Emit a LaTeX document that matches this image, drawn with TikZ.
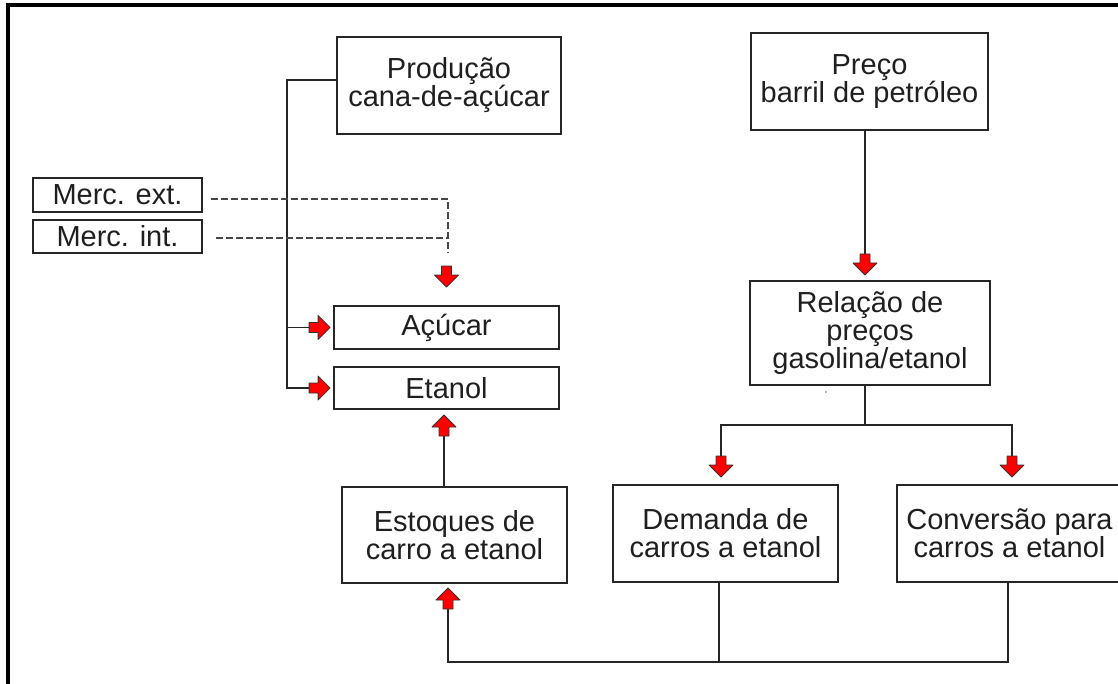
\documentclass[tikz,border=0pt]{standalone}
\usepackage{fontspec}
\setmainfont{Liberation Sans}
\begin{document}
\begin{tikzpicture}[x=1pt,y=-1pt,
  box/.style={draw=black!85, line width=1.8pt, align=center, inner sep=0pt,
    font=\fontsize{29}{28}\selectfont, text=black!88},
  ln/.style={draw=black!85, line width=1.9pt},
  dsh/.style={draw=black!72, line width=2.1pt, dash pattern=on 7pt off 3pt},
  barrow/.pic={\filldraw[fill=red, draw=black!80, line width=0.8pt, line join=round]
    (0,0) -- (-12,12) -- (-12,5) -- (-21,5) -- (-21,-5) -- (-12,-5) -- (-12,-12) -- cycle;}]
\useasboundingbox (0,0) rectangle (1118,684);
\clip (0,0) rectangle (1118,684);
% outer frame
\draw[line width=3.2pt, black] (8,700) -- (8,5) -- (1130,5);

% nodes
\node[box, minimum width=224pt, minimum height=97pt] (prod) at (449,85.5) {Produção\\cana-de-açúcar};
\node[box, minimum width=237pt, minimum height=97pt] (preco) at (869.5,81.5) {Preço\\barril de petróleo};
\node[box, minimum width=240pt, minimum height=104pt] (rel) at (870,333) {Relação de\\preços\\gasolina/etanol};
\node[box, minimum width=169pt, minimum height=34pt] (merce) at (117.5,195) {Merc. ext.};
\node[box, minimum width=169pt, minimum height=33pt] (merci) at (117.5,236.5) {Merc. int.};
\node[box, minimum width=225pt, minimum height=43pt] (acucar) at (446.5,327.5) {Açúcar};
\node[box, minimum width=225pt, minimum height=42pt] (etanol) at (446.5,388) {Etanol};
\node[box, minimum width=225pt, minimum height=96pt] (estoq) at (454.5,535) {Estoques de\\carro a etanol};
\node[box, minimum width=225pt, minimum height=97pt] (dem) at (725.5,533.5) {Demanda de\\carros a etanol};
\node[box, minimum width=225pt, minimum height=97pt] (conv) at (1009.5,533.5) {Conversão para\\carros a etanol};

% stray dot
\fill[black!60] (826,392) circle (0.9pt);

% helper coordinates
\coordinate (vl) at (287,80);
\coordinate (dj) at (448,199);
\coordinate (j1) at (865,425);
\coordinate (hb) at (448,662);

% production -> acucar / etanol
\draw[ln] ([yshift=5.5pt]prod.west) -- (vl) -- (vl |- etanol.west) -- ([xshift=-24pt]etanol.west);
\draw[ln] (vl |- acucar.west) -- ([xshift=-24pt]acucar.west);
\pic at ([xshift=-3pt]acucar.west) {barrow};
\pic at ([xshift=-3pt]etanol.west) {barrow};

% markets (dashed)
\draw[dsh] ([xshift=8pt,yshift=-4pt]merce.east) -- (dj) -- (448,253);
\draw[dsh] ([xshift=13pt,yshift=-1.5pt]merci.east) -- (448,238);
\coordinate (atip) at ([yshift=18pt]acucar.north);
\pic[rotate=-90] at (atip) {barrow};

% preco -> relacao
\coordinate (rtip) at (865,275);
\draw[ln] (preco.south -| rtip) -- ([yshift=20pt]rtip);
\pic[rotate=-90] at (rtip) {barrow};

% relacao -> demanda / conversao
\coordinate (dtip) at (721,477);
\coordinate (ctip) at (1012,477);
\draw[ln] (rel.south -| j1) -- (j1);
\draw[ln] ([yshift=20pt]dtip) -- (dtip |- j1) -- (ctip |- j1) -- ([yshift=20pt]ctip);
\pic[rotate=-90] at (dtip) {barrow};
\pic[rotate=-90] at (ctip) {barrow};

% demanda / conversao -> estoques
\coordinate (etip) at (448,588);
\draw[ln] (dem.south -| 719,0) -- (719,662);
\draw[ln] (conv.south -| 1008,0) -- (1008,662) -- (hb) -- ([yshift=-20pt]etip);
\pic[rotate=90] at (etip) {barrow};

% estoques -> etanol
\coordinate (utip) at (444,415);
\draw[ln] (estoq.north -| utip) -- ([yshift=-20pt]utip);
\pic[rotate=90] at (utip) {barrow};
\end{tikzpicture}
\end{document}
